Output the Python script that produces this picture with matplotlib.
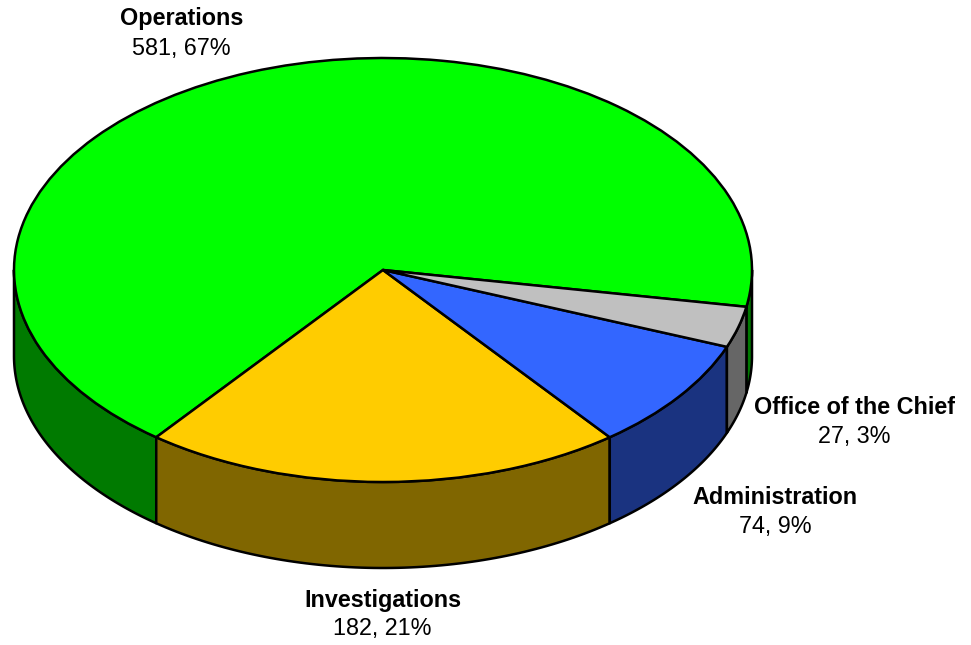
#!/usr/bin/env python3
import numpy as np
import matplotlib
matplotlib.use("Agg")
import matplotlib.pyplot as plt

categories = ["Operations", "Investigations", "Administration", "Office of the Chief"]
values = [581, 182, 74, 27]
value_labels = ["581, 67%", "182, 21%", "74, 9%", "27, 3%"]
top_colors = ["#00FF00", "#FFCC00", "#3366FF", "#C0C0C0"]
side_colors = ["#007A00", "#806600", "#1A3380", "#666666"]

W, H = 971, 645
CX, CY = 383, 270     # pie centre, pixels
RX, RY = 369, 212     # ellipse half axes, pixels
DEPTH = 86 / RY       # wall height in data units
START = 350.0         # where Operations starts, degrees
LW = 1.8

# label centres in pixels: (x name, x value, y name, y value)
label_pos = [(181.5, 181.5, 19, 49), (383, 382, 600, 629),
             (775, 775, 497, 526), (854, 854, 408, 437)]

fig = plt.figure(figsize=(W / 100, H / 100), dpi=100)
ax = fig.add_axes([0, 0, 1, 1])

wedges, _ = ax.pie(values, colors=top_colors, startangle=START, radius=1, center=(0, 0),
                   wedgeprops=dict(edgecolor="black", linewidth=LW, zorder=5))

# squash the flat pie into an ellipse
ax.set_aspect("auto")
ax.set_xlim(-CX / RX, (W - CX) / RX)
ax.set_ylim(-(H - CY) / RY, CY / RY)
ax.axis("off")

# walls, only the part of each slice facing the viewer (180 to 360 deg)
edges = START + np.concatenate([[0], np.cumsum(values)]) * 360.0 / sum(values)
for i in range(len(values)):
    for shift in (-360, 0, 360):
        a = max(edges[i] + shift, 180)
        b = min(edges[i + 1] + shift, 360)
        if b <= a:
            continue
        t = np.radians(np.linspace(a, b, 80))
        xs = np.cos(t)
        ys = np.sin(t)
        ax.fill(np.r_[xs, xs[::-1]], np.r_[ys, ys[::-1] - DEPTH],
                facecolor=side_colors[i], edgecolor="black", linewidth=LW,
                joinstyle="round", zorder=2)

for (x1, x2, y1, y2), name, val in zip(label_pos, categories, value_labels):
    fig.text(x1 / W, 1 - y1 / H, name, family="Liberation Sans", fontweight="bold",
             fontsize=16.8, ha="center", va="center", color="black")
    fig.text(x2 / W, 1 - y2 / H, val, family="Liberation Sans",
             fontsize=16.8, ha="center", va="center", color="black")

fig.savefig("out.png", dpi=100, facecolor="white")
